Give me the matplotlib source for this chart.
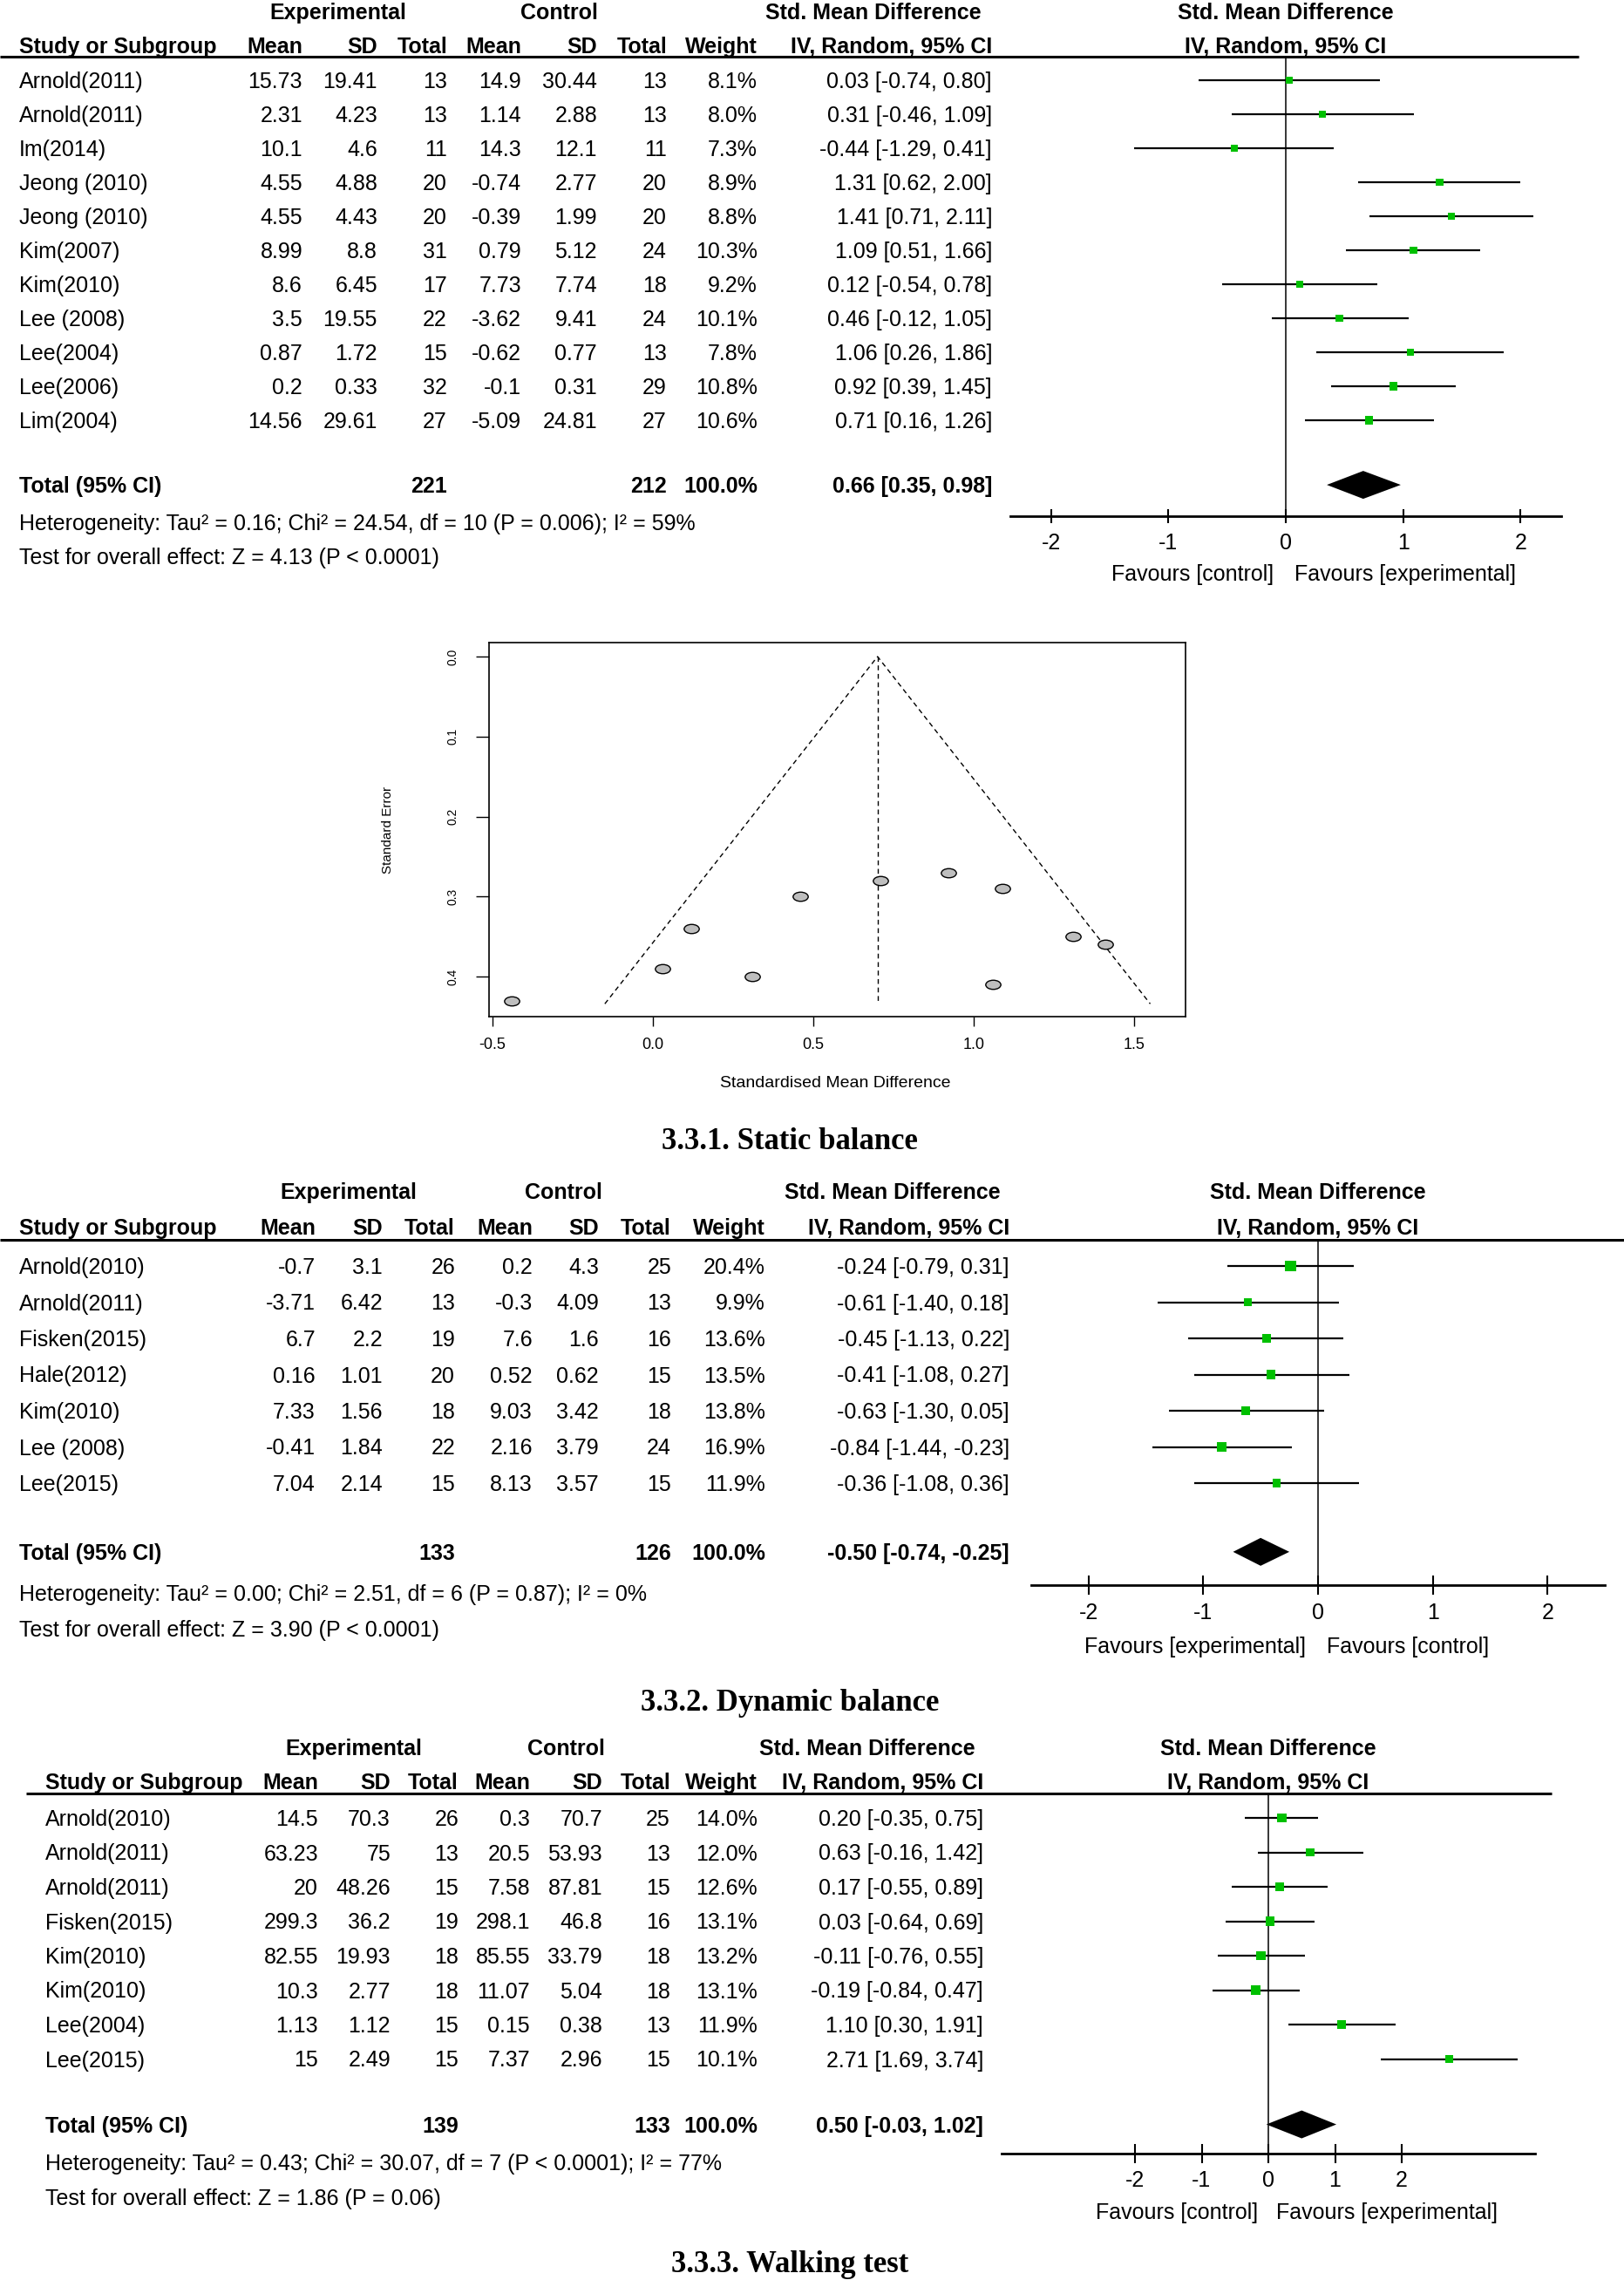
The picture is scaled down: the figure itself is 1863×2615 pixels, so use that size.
import numpy as np
import matplotlib
matplotlib.use("Agg")
import matplotlib.pyplot as plt
from matplotlib.path import Path
from matplotlib.transforms import Affine2D

# ---------------- 3.3.1 static balance ----------------
static_study = ["Arnold(2011)", "Arnold(2011)", "Im(2014)", "Jeong (2010)", "Jeong (2010)",
                "Kim(2007)", "Kim(2010)", "Lee (2008)", "Lee(2004)", "Lee(2006)", "Lim(2004)"]
static_e_mean = [15.73, 2.31, 10.1, 4.55, 4.55, 8.99, 8.6, 3.5, 0.87, 0.2, 14.56]
static_e_sd = [19.41, 4.23, 4.6, 4.88, 4.43, 8.8, 6.45, 19.55, 1.72, 0.33, 29.61]
static_e_n = [13, 13, 11, 20, 20, 31, 17, 22, 15, 32, 27]
static_c_mean = [14.9, 1.14, 14.3, -0.74, -0.39, 0.79, 7.73, -3.62, -0.62, -0.1, -5.09]
static_c_sd = [30.44, 2.88, 12.1, 2.77, 1.99, 5.12, 7.74, 9.41, 0.77, 0.31, 24.81]
static_c_n = [13, 13, 11, 20, 20, 24, 18, 24, 13, 29, 27]
static_weight = [8.1, 8.0, 7.3, 8.9, 8.8, 10.3, 9.2, 10.1, 7.8, 10.8, 10.6]
static_smd = [0.03, 0.31, -0.44, 1.31, 1.41, 1.09, 0.12, 0.46, 1.06, 0.92, 0.71]
static_lo = [-0.74, -0.46, -1.29, 0.62, 0.71, 0.51, -0.54, -0.12, 0.26, 0.39, 0.16]
static_hi = [0.80, 1.09, 0.41, 2.00, 2.11, 1.66, 0.78, 1.05, 1.86, 1.45, 1.26]
static_total = [221, 212, 0.66, 0.35, 0.98]
static_het = "Heterogeneity: Tau² = 0.16; Chi² = 24.54, df = 10 (P = 0.006); I² = 59%"
static_test = "Test for overall effect: Z = 4.13 (P < 0.0001)"
static_fav = ["Favours [control]", "Favours [experimental]"]

# funnel plot (static balance studies)
static_se = [0.39, 0.40, 0.43, 0.35, 0.36, 0.29, 0.34, 0.30, 0.41, 0.27, 0.28]
funnel_center = 0.70
funnel_se_max = 0.434
funnel_left = -0.15
funnel_right = 1.55
funnel_xticks = [-0.5, 0.0, 0.5, 1.0, 1.5]
funnel_yticks = [0.0, 0.1, 0.2, 0.3, 0.4]

# ---------------- 3.3.2 dynamic balance ----------------
dyn_study = ["Arnold(2010)", "Arnold(2011)", "Fisken(2015)", "Hale(2012)", "Kim(2010)",
             "Lee (2008)", "Lee(2015)"]
dyn_e_mean = [-0.7, -3.71, 6.7, 0.16, 7.33, -0.41, 7.04]
dyn_e_sd = [3.1, 6.42, 2.2, 1.01, 1.56, 1.84, 2.14]
dyn_e_n = [26, 13, 19, 20, 18, 22, 15]
dyn_c_mean = [0.2, -0.3, 7.6, 0.52, 9.03, 2.16, 8.13]
dyn_c_sd = [4.3, 4.09, 1.6, 0.62, 3.42, 3.79, 3.57]
dyn_c_n = [25, 13, 16, 15, 18, 24, 15]
dyn_weight = [20.4, 9.9, 13.6, 13.5, 13.8, 16.9, 11.9]
dyn_smd = [-0.24, -0.61, -0.45, -0.41, -0.63, -0.84, -0.36]
dyn_lo = [-0.79, -1.40, -1.13, -1.08, -1.30, -1.44, -1.08]
dyn_hi = [0.31, 0.18, 0.22, 0.27, 0.05, -0.23, 0.36]
dyn_total = [133, 126, -0.50, -0.74, -0.25]
dyn_het = "Heterogeneity: Tau² = 0.00; Chi² = 2.51, df = 6 (P = 0.87); I² = 0%"
dyn_test = "Test for overall effect: Z = 3.90 (P < 0.0001)"
dyn_fav = ["Favours [experimental]", "Favours [control]"]

# ---------------- 3.3.3 walking test ----------------
walk_study = ["Arnold(2010)", "Arnold(2011)", "Arnold(2011)", "Fisken(2015)", "Kim(2010)",
              "Kim(2010)", "Lee(2004)", "Lee(2015)"]
walk_e_mean = [14.5, 63.23, 20, 299.3, 82.55, 10.3, 1.13, 15]
walk_e_sd = [70.3, 75, 48.26, 36.2, 19.93, 2.77, 1.12, 2.49]
walk_e_n = [26, 13, 15, 19, 18, 18, 15, 15]
walk_c_mean = [0.3, 20.5, 7.58, 298.1, 85.55, 11.07, 0.15, 7.37]
walk_c_sd = [70.7, 53.93, 87.81, 46.8, 33.79, 5.04, 0.38, 2.96]
walk_c_n = [25, 13, 15, 16, 18, 18, 13, 15]
walk_weight = [14.0, 12.0, 12.6, 13.1, 13.2, 13.1, 11.9, 10.1]
walk_smd = [0.20, 0.63, 0.17, 0.03, -0.11, -0.19, 1.10, 2.71]
walk_lo = [-0.35, -0.16, -0.55, -0.64, -0.76, -0.84, 0.30, 1.69]
walk_hi = [0.75, 1.42, 0.89, 0.69, 0.55, 0.47, 1.91, 3.74]
walk_total = [139, 133, 0.50, -0.03, 1.02]
walk_het = "Heterogeneity: Tau² = 0.43; Chi² = 30.07, df = 7 (P < 0.0001); I² = 77%"
walk_test = "Test for overall effect: Z = 1.86 (P = 0.06)"
walk_fav = ["Favours [control]", "Favours [experimental]"]

forest_ticks = [-2, -1, 0, 1, 2]
titles = ["3.3.1. Static balance", "3.3.2. Dynamic balance", "3.3.3. Walking test"]

# ---------------- setup ----------------
W, H, DPI = 1863, 2615, 100
plt.rcParams['axes.unicode_minus'] = False

TABLE_FONT = ['Liberation Sans', 'DejaVu Sans']
FS = 18
SANS = ['Liberation Sans', 'DejaVu Sans']
SERIF = ['Liberation Serif', 'DejaVu Serif']
GREEN = '#00c000'
TY = 2  # small downward nudge of table text

fig = plt.figure(figsize=(W / DPI, H / DPI), dpi=DPI)
fig.patch.set_facecolor('white')
bg = fig.add_axes([0, 0, 1, 1])
bg.set_xlim(0, W)
bg.set_ylim(H, 0)
bg.axis('off')


def txt(x, y, s, ha='right', bold=False):
    bg.text(x, y + TY, s, ha=ha, va='center', family=TABLE_FONT, fontsize=FS,
            fontweight='bold' if bold else 'normal', color='black')


def fmt(v):
    return '{:g}'.format(v)


def ci(e, l, h):
    return '{:.2f} [{:.2f}, {:.2f}]'.format(e, l, h)


def draw_panel(study, e_mean, e_sd, e_n, c_mean, c_sd, c_n, weight, smd, lo, hi,
               total, het, test, fav, L):
    y0, dy = L['first'], L['dy']
    n = len(study)
    cols = L['cols']

    # headers
    txt(L['exp_c'], L['h1'], 'Experimental', ha='center', bold=True)
    txt(L['ctl_c'], L['h1'], 'Control', ha='center', bold=True)
    txt(L['smd_r'], L['h1'], 'Std. Mean Difference', bold=True)
    txt(L['zero'], L['h1'], 'Std. Mean Difference', ha='center', bold=True)
    txt(L['study_x'], L['h2'], 'Study or Subgroup', ha='left', bold=True)
    for c, lab in zip(cols[:7], ['Mean', 'SD', 'Total', 'Mean', 'SD', 'Total', 'Weight']):
        txt(c, L['h2'], lab, bold=True)
    txt(cols[7], L['h2'], 'IV, Random, 95% CI', bold=True)
    txt(L['zero'], L['h2'], 'IV, Random, 95% CI', ha='center', bold=True)
    bg.plot(L['line_x'], [L['line'], L['line']], color='black', lw=2.2,
            solid_capstyle='butt')

    # study rows
    for i in range(n):
        y = y0 + i * dy
        txt(L['study_x'], y, study[i], ha='left')
        vals = [fmt(e_mean[i]), fmt(e_sd[i]), str(e_n[i]), fmt(c_mean[i]), fmt(c_sd[i]),
                str(c_n[i]), '{:.1f}%'.format(weight[i]), ci(smd[i], lo[i], hi[i])]
        for c, v in zip(cols, vals):
            txt(c, y, v)

    t_idx = n + 0.9
    yt = y0 + t_idx * dy
    txt(L['study_x'], yt, 'Total (95% CI)', ha='left', bold=True)
    txt(cols[2], yt, str(total[0]), bold=True)
    txt(cols[5], yt, str(total[1]), bold=True)
    txt(cols[6], yt, '100.0%', bold=True)
    txt(cols[7], yt, ci(total[2], total[3], total[4]), bold=True)
    txt(L['study_x'], L['het'], het, ha='left')
    txt(L['study_x'], L['test'], test, ha='left')
    txt(L['fav_l'], L['fav_y'], fav[0])
    txt(L['fav_r'], L['fav_y'], fav[1], ha='left')

    # forest plot axes
    xl = L['xlim']
    x0 = L['zero'] + xl[0] * L['unit']
    x1 = L['zero'] + xl[1] * L['unit']
    ax = fig.add_axes([x0 / W, 1 - L['axis'] / H, (x1 - x0) / W, (L['axis'] - L['line']) / H])
    ax.patch.set_alpha(0)
    ax.set_xlim(xl)
    ax.set_ylim((L['axis'] - y0) / dy, (L['line'] - y0) / dy)
    for s in ['top', 'left', 'right']:
        ax.spines[s].set_visible(False)
    ax.spines['bottom'].set_linewidth(2.0)
    ax.set_yticks([])
    ax.set_xticks(forest_ticks)
    ax.set_xticklabels([str(t) for t in forest_ticks], family=TABLE_FONT, fontsize=FS)
    ax.tick_params(axis='x', direction='inout', length=L['tick_len'], width=1.5,
                   pad=L['tick_pad'])
    ax.axvline(0, color='black', lw=1.1)

    rows = np.arange(n)
    ax.hlines(rows, lo, hi, color='black', lw=1.6)
    side = 2.8 * np.sqrt(np.array(weight)) * 72 / DPI
    ax.scatter(smd, rows, marker='s', s=side ** 2, color=GREEN, linewidths=0, zorder=3)
    h = 16.0 / dy
    ax.fill([total[3], total[2], total[4], total[2]], [t_idx, t_idx - h, t_idx, t_idx + h],
            color='black', lw=0)


lay_static = dict(h1=13, h2=52, line=65, line_x=[0, 1811], first=92, dy=39,
                  het=599, test=638, study_x=22, exp_c=388, ctl_c=641, smd_r=1126,
                  cols=[347, 433, 513, 598, 685, 765, 869, 1138],
                  zero=1475, unit=134.6, xlim=(-2.35, 2.35), axis=592,
                  tick_len=12, tick_pad=7.5,
                  fav_y=657, fav_l=1461, fav_r=1485)
lay_dyn = dict(h1=1366, h2=1407, line=1422, line_x=[0, 1863], first=1452, dy=41.5,
               het=1827, test=1868, study_x=22, exp_c=400, ctl_c=646, smd_r=1148,
               cols=[362, 439, 522, 611, 687, 770, 878, 1158],
               zero=1512, unit=131.7, xlim=(-2.5, 2.5), axis=1818,
               tick_len=16, tick_pad=6.5,
               fav_y=1887, fav_l=1498, fav_r=1522)
lay_walk = dict(h1=2004, h2=2043, line=2057, line_x=[30, 1780], first=2085, dy=39.5,
                het=2480, test=2520, study_x=52, exp_c=406, ctl_c=649, smd_r=1119,
                cols=[365, 448, 526, 608, 691, 769, 869, 1128],
                zero=1455, unit=76.5, xlim=(-4, 4), axis=2470,
                tick_len=16, tick_pad=6,
                fav_y=2536, fav_l=1443, fav_r=1464)

draw_panel(static_study, static_e_mean, static_e_sd, static_e_n, static_c_mean, static_c_sd,
           static_c_n, static_weight, static_smd, static_lo, static_hi, static_total,
           static_het, static_test, static_fav, lay_static)
draw_panel(dyn_study, dyn_e_mean, dyn_e_sd, dyn_e_n, dyn_c_mean, dyn_c_sd, dyn_c_n,
           dyn_weight, dyn_smd, dyn_lo, dyn_hi, dyn_total, dyn_het, dyn_test, dyn_fav, lay_dyn)
draw_panel(walk_study, walk_e_mean, walk_e_sd, walk_e_n, walk_c_mean, walk_c_sd, walk_c_n,
           walk_weight, walk_smd, walk_lo, walk_hi, walk_total, walk_het, walk_test, walk_fav,
           lay_walk)

# ---------------- funnel plot ----------------
fx0, fx1, fy0, fy1 = 561, 1360, 737, 1166
fa = fig.add_axes([fx0 / W, 1 - fy1 / H, (fx1 - fx0) / W, (fy1 - fy0) / H])
fa.set_xlim(-0.511, 1.660)
fa.set_ylim(0.450, -0.0175)
for s in fa.spines.values():
    s.set_linewidth(1.2)
fa.plot([funnel_left, funnel_center, funnel_right], [funnel_se_max, 0, funnel_se_max],
        color='black', lw=1.0, ls=(0, (4, 3)))
fa.plot([funnel_center, funnel_center], [0, funnel_se_max], color='black', lw=1.0,
        ls=(0, (4, 3)))
circ = Path.unit_circle()
ell = Path(Affine2D().scale(1.65, 1.0).transform(circ.vertices), circ.codes)
fa.scatter(static_smd, static_se, marker=ell, s=12.5 ** 2, facecolor='#bebebe',
           edgecolor='black', linewidths=1.0, zorder=3)
fa.set_xticks(funnel_xticks)
fa.set_xticklabels(['{:.1f}'.format(v) for v in funnel_xticks], family=SANS, fontsize=13)
fa.set_yticks(funnel_yticks)
fa.set_yticklabels(['{:.1f}'.format(v) for v in funnel_yticks], family=SANS, fontsize=10)
fa.tick_params(axis='x', direction='out', length=8, width=1.0, pad=9)
fa.tick_params(axis='y', direction='out', length=10.5, width=1.0, pad=14, labelrotation=90)
for lab in fa.get_yticklabels():
    lab.set_va('center')
fa.set_xlabel('Standardised Mean Difference', family=SANS, fontsize=14)
fa.xaxis.set_label_coords((958 - fx0) / (fx1 - fx0), -(1243 - fy1) / (fy1 - fy0))
fa.xaxis.label.set_va('center')
fa.set_ylabel('Standard Error', family=SANS, fontsize=11)
fa.yaxis.set_label_coords((445 - fx0) / (fx1 - fx0), 0.5)
fa.yaxis.label.set_va('center')

# ---------------- titles ----------------
for t, y in zip(titles, [1310, 1953, 2597]):
    bg.text(906, y, t, ha='center', va='center', family=SERIF, fontsize=25,
            fontweight='bold', color='black')

fig.savefig('out.png', dpi=DPI)
